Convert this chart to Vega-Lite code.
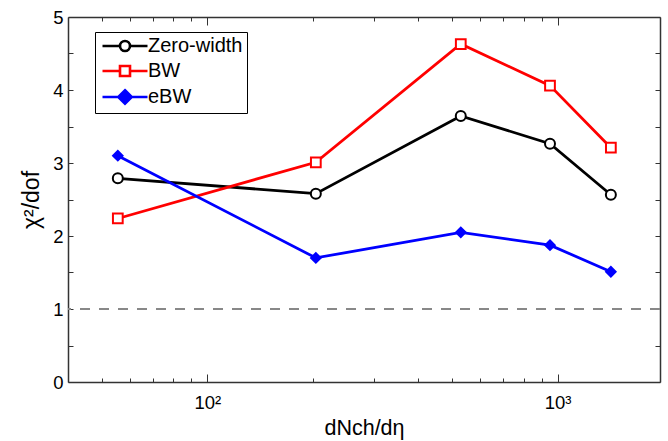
{
  "$schema": "https://vega.github.io/schema/vega-lite/v6.json",
  "width": 592,
  "height": 365,
  "autosize": {"type": "none"},
  "padding": {"left": 68, "top": 17, "right": 8, "bottom": 59},
  "config": {
    "view": {"stroke": null},
    "font": "Liberation Sans",
    "axis": {"labelFont": "Liberation Sans", "titleFont": "Liberation Sans", "labelColor": "#000", "titleColor": "#000", "titleFontWeight": "normal", "domainColor": "#333", "domainWidth": 1.5, "tickColor": "#333", "tickWidth": 1, "grid": false}
  },
  "data": {"values": [
    {"series": "Zero-width", "dNdeta": 55.5, "chi2": 2.79},
    {"series": "Zero-width", "dNdeta": 204, "chi2": 2.58},
    {"series": "Zero-width", "dNdeta": 529, "chi2": 3.645},
    {"series": "Zero-width", "dNdeta": 951, "chi2": 3.265},
    {"series": "Zero-width", "dNdeta": 1419, "chi2": 2.565},
    {"series": "BW", "dNdeta": 55.5, "chi2": 2.24},
    {"series": "BW", "dNdeta": 204, "chi2": 3.01},
    {"series": "BW", "dNdeta": 529, "chi2": 4.63},
    {"series": "BW", "dNdeta": 951, "chi2": 4.06},
    {"series": "BW", "dNdeta": 1419, "chi2": 3.21},
    {"series": "eBW", "dNdeta": 55.5, "chi2": 3.1},
    {"series": "eBW", "dNdeta": 204, "chi2": 1.7},
    {"series": "eBW", "dNdeta": 529, "chi2": 2.05},
    {"series": "eBW", "dNdeta": 951, "chi2": 1.875},
    {"series": "eBW", "dNdeta": 1419, "chi2": 1.51}
  ]},
  "resolve": {"axis": {"x": "independent", "y": "independent"}, "legend": {"color": "independent", "shape": "independent"}},
  "layer": [
    {
      "mark": {"type": "rule", "color": "#888888", "strokeWidth": 2.2, "strokeDash": [10, 9]},
      "encoding": {
        "y": {"datum": 1, "type": "quantitative", "scale": {"domain": [0, 5], "nice": false, "zero": false},
          "axis": {"orient": "right", "values": [0,0.5,1,1.5,2,2.5,3,3.5,4,4.5,5], "labels": false, "tickSize": -5, "title": null}}
      }
    },
    {
      "mark": {"type": "point", "opacity": 0},
      "encoding": {
        "x": {"field": "dNdeta", "type": "quantitative", "scale": {"type": "log", "domain": [40, 1960], "nice": false},
          "axis": {"orient": "top", "values": [50,60,70,80,90,100,200,300,400,500,600,700,800,900,1000], "labels": false, "title": null,
            "tickSize": {"condition": {"test": "datum.value == 100 || datum.value == 1000", "value": -8}, "value": -4}}},
        "y": {"field": "chi2", "type": "quantitative", "axis": null}
      }
    },
    {
      "mark": {"type": "line", "strokeWidth": 2.8},
      "encoding": {
        "x": {"field": "dNdeta", "type": "quantitative",
          "axis": {"orient": "bottom", "values": [50,60,70,80,90,100,200,300,400,500,600,700,800,900,1000],
            "labelExpr": "datum.value == 100 ? '10²' : datum.value == 1000 ? '10³' : ''",
            "labelFontSize": 18.5, "labelPadding": 19,
            "tickSize": {"condition": {"test": "datum.value == 100 || datum.value == 1000", "value": -8}, "value": -4},
            "title": "dNch/dη", "titleFontSize": 21.5, "titlePadding": 6}},
        "y": {"field": "chi2", "type": "quantitative",
          "axis": {"orient": "left", "values": [0,0.5,1,1.5,2,2.5,3,3.5,4,4.5,5],
            "labelExpr": "datum.value % 1 == 0 ? format(datum.value, 'd') : ''",
            "labelFontSize": 18.5, "labelPadding": 10, "tickSize": -5,
            "title": "χ²/dof", "titleFontSize": 23, "titlePadding": 9}},
        "color": {"field": "series", "type": "nominal",
          "scale": {"domain": ["Zero-width", "BW", "eBW"], "range": ["#000000", "#ff0000", "#0000ff"]},
          "legend": {
            "title": null, "orient": "none", "legendX": 27, "legendY": 15,
            "strokeColor": "#000", "fillColor": "#fff", "padding": 4,
            "labelFont": "Liberation Sans", "labelFontSize": 20, "labelColor": "#000",
            "symbolSize": 100, "rowPadding": 3, "labelOffset": 13, "symbolOffset": 16,
            "encode": {"symbols": {"update": {
              "shape": {"signal": "datum.value == 'Zero-width' ? 'M-4.5,0H-1M1,0H4.5M-1,0A1,1 0 1,1 1,0A1,1 0 1,1 -1,0Z' : datum.value == 'BW' ? 'M-4.5,0H-1M1,0H4.5M-1,-1H1V1H-1Z' : 'M-4.5,0H4.5M0,-1.35L1.35,0L0,1.35L-1.35,0Z'"},
              "fill": {"signal": "datum.value == 'eBW' ? '#0000ff' : '#ffffff'"},
              "strokeWidth": {"value": 2.6},
              "size": {"value": 100},
              "opacity": {"value": 1}
            }}}
          }}
      }
    },
    {
      "mark": {"type": "point", "strokeWidth": 2, "opacity": 1},
      "encoding": {
        "x": {"field": "dNdeta", "type": "quantitative", "axis": null},
        "y": {"field": "chi2", "type": "quantitative", "axis": null},
        "color": {"field": "series", "type": "nominal", "legend": null},
        "shape": {"field": "series", "type": "nominal",
          "scale": {"domain": ["Zero-width", "BW", "eBW"], "range": ["circle", "square", "diamond"]}, "legend": null},
        "fill": {"field": "series", "type": "nominal",
          "scale": {"domain": ["Zero-width", "BW", "eBW"], "range": ["#ffffff", "#ffffff", "#0000ff"]}, "legend": null},
        "size": {"field": "series", "type": "nominal",
          "scale": {"domain": ["Zero-width", "BW", "eBW"], "range": [100, 90, 180]}, "legend": null}
      }
    }
  ]
}
